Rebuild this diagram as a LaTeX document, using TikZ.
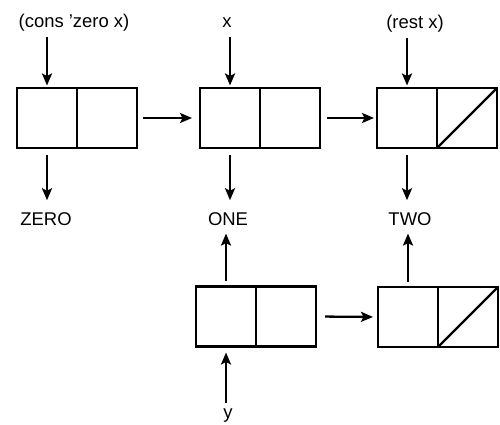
\documentclass[tikz,border=0pt]{standalone}
\usepackage{fontspec}
\setmainfont{Liberation Sans}
\usetikzlibrary{arrows.meta,positioning}
\tikzset{
  cell/.style={draw,line width=1.3pt,minimum size=1.2cm,inner sep=0pt,outer sep=0pt},
  ptr/.style={line width=1.3pt,-{Stealth[length=2.4mm,width=2mm,inset=0.5mm]}},
  lbl/.style={inner sep=0pt,anchor=base,font=\fontsize{10.5}{12}\selectfont,text height=1.55ex,text depth=.4ex},
  nil/.style={line width=1.3pt}
}

\begin{document}
\begin{tikzpicture}
\useasboundingbox (0,0) rectangle (10,-8.5);
% cons cells
\node[cell] (c1a) at (0.94,-2.36) {}; \node[cell,right=0pt of c1a] (c1d) {};
\node[cell] (c2a) at (4.6,-2.36) {};  \node[cell,right=0pt of c2a] (c2d) {};
\node[cell] (c3a) at (8.14,-2.36) {}; \node[cell,right=0pt of c3a] (c3d) {};
\node[cell] (c4a) at (4.52,-6.33) {}; \node[cell,right=0pt of c4a] (c4d) {};
\node[cell] (c5a) at (8.16,-6.34) {}; \node[cell,right=0pt of c5a] (c5d) {};
\draw[nil] (c3d.south west) -- (c3d.north east);
\draw[nil] (c5d.south west) -- (c5d.north east);
% labels
\node[lbl] (lcons) at (1.48,-0.56) {(cons 'zero x)};
\node[lbl] (lx) at (4.54,-0.56) {x};
\node[lbl] (lrest) at (8.3,-0.58) {(rest x)};
\node[lbl] (zero) at (0.92,-4.51) {ZERO};
\node[lbl] (one) at (4.56,-4.51) {ONE};
\node[lbl] (two) at (8.2,-4.51) {TWO};
\node[lbl] (ly) at (4.56,-8.36) {y};
% pointers
\draw[ptr,shorten <=0.1cm,shorten >=0.05cm] (lcons.south -| c1a.north) -- (c1a.north);
\draw[ptr,shorten <=0.1cm,shorten >=0.05cm] (lx.south -| c2a.north) -- (c2a.north);
\draw[ptr,shorten <=0.1cm,shorten >=0.05cm] (lrest.south -| c3a.north) -- (c3a.north);
\draw[ptr,shorten <=0.14cm,shorten >=0.21cm] (c1a.south) -- (c1a.south |- zero.north);
\draw[ptr,shorten <=0.14cm,shorten >=0.21cm] (c2a.south) -- (c2a.south |- one.north);
\draw[ptr,shorten <=0.14cm,shorten >=0.21cm] (c3a.south) -- (c3a.south |- two.north);
\draw[ptr,shorten <=0.1cm,shorten >=0.08cm] (c4a.north) -- (c4a.north |- one.south);
\draw[ptr,shorten <=0.1cm,shorten >=0.08cm] (c5a.north) -- (c5a.north |- two.south);
\draw[ptr,shorten <=0cm,shorten >=0.12cm] (ly.north -| c4a.south) -- (c4a.south);
\draw[ptr,shorten <=0.12cm,shorten >=0.16cm] (c1d.east) -- (c2a.west);
\draw[ptr,shorten <=0.14cm,shorten >=0.06cm] (c2d.east) -- (c3a.west);
\draw[ptr,shorten <=0.18cm,shorten >=0.1cm] (c4d.east) -- (c5a.west);
\end{tikzpicture}
\end{document}
